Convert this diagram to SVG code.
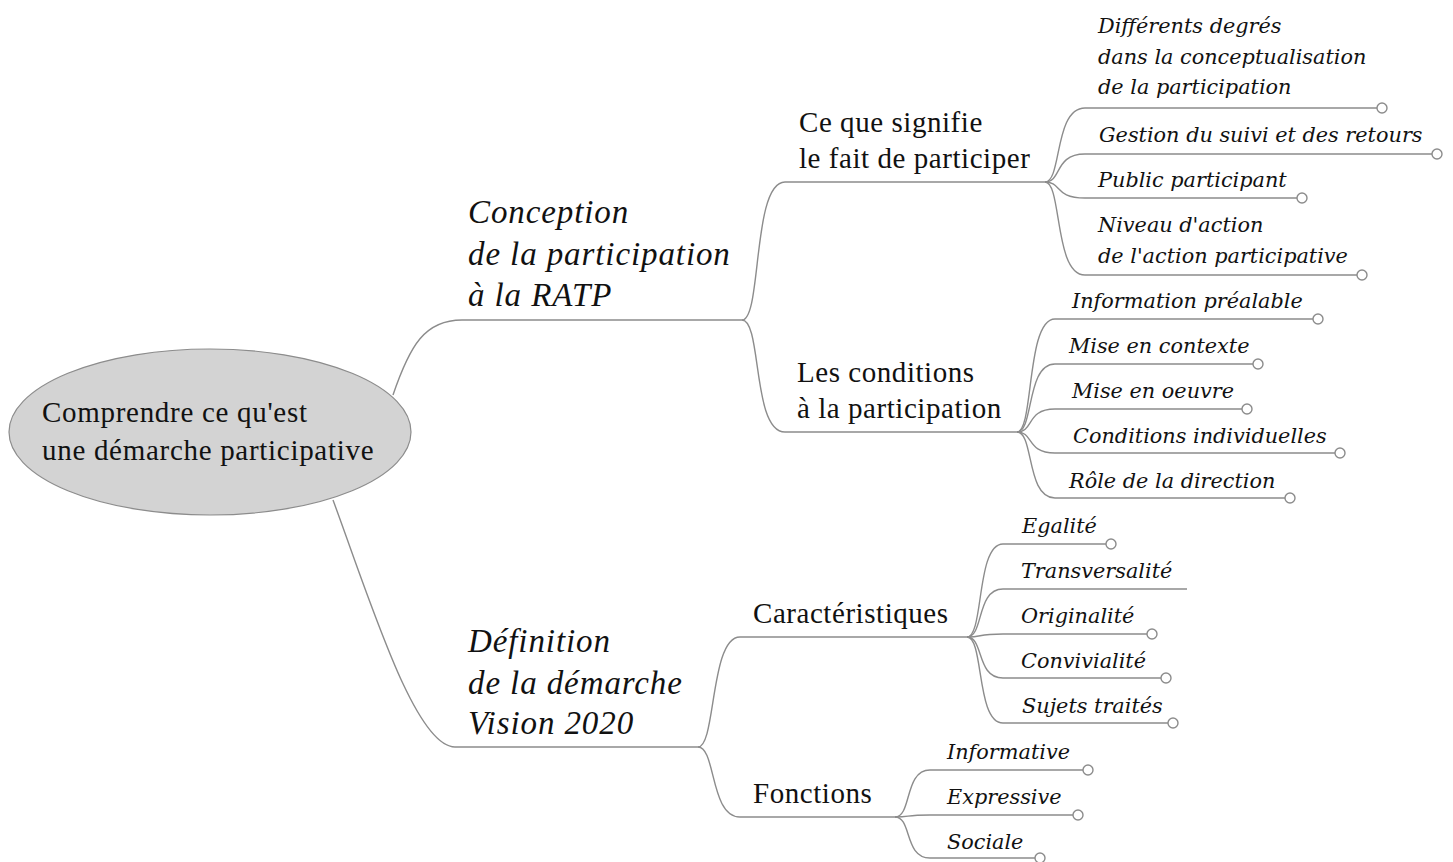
<svg xmlns="http://www.w3.org/2000/svg" width="1453" height="862" viewBox="0 0 1453 862">
<style>
.bg{fill:#ffffff}
.c{fill:none;stroke:#8c8c8c;stroke-width:1.4}
.dot{fill:#ffffff;stroke:#8c8c8c;stroke-width:1.4}
.root{fill:#d3d3d3;stroke:#8c8c8c;stroke-width:1.2}
.t0{font-family:"Liberation Serif","Times New Roman",serif;font-size:29px;fill:#111;letter-spacing:0.7px}
.t1{font-family:"Liberation Serif","Times New Roman",serif;font-style:italic;font-size:33px;fill:#111;letter-spacing:0.9px}
.t2{font-family:"Liberation Serif","Times New Roman",serif;font-size:29px;fill:#111;letter-spacing:0.55px}
.t3{font-family:"DejaVu Serif",serif;font-style:italic;font-size:20.8px;fill:#111}
</style>
<rect class="bg" x="0" y="0" width="1453" height="862"/>
<g id="connectors">
<path class="c" d="M393,395 C410,345 425,320 462,320 L742,320"/>
<path class="c" d="M333,500 C370,600 415,747 455,747 L698,747"/>
<path class="c" d="M742,320 C762,320 752,182 785,182 L1045,182"/>
<path class="c" d="M742,320 C762,320 752,432 785,432 L1017,432"/>
<path class="c" d="M698,747 C716,747 710,637 740,637 L967,637"/>
<path class="c" d="M698,747 C716,747 710,817 740,817 L895,817"/>
<path class="c" d="M1045,182 C1062,182 1054,108 1085,108 L1377,108"/>
<path class="c" d="M1045,182 C1062,182 1054,154 1085,154 L1432,154"/>
<path class="c" d="M1045,182 C1062,182 1054,198 1085,198 L1297,198"/>
<path class="c" d="M1045,182 C1062,182 1054,275 1085,275 L1357,275"/>
<path class="c" d="M1017,432 C1034,432 1026,319 1055,319 L1313,319"/>
<path class="c" d="M1017,432 C1034,432 1026,364 1055,364 L1253,364"/>
<path class="c" d="M1017,432 C1034,432 1026,409 1055,409 L1242,409"/>
<path class="c" d="M1017,432 C1034,432 1026,453 1055,453 L1335,453"/>
<path class="c" d="M1017,432 C1034,432 1026,498 1055,498 L1285,498"/>
<path class="c" d="M967,637 C984,637 976,544 1003,544 L1106,544"/>
<path class="c" d="M967,637 C984,637 976,589 1003,589 L1187,589"/>
<path class="c" d="M967,637 C984,637 976,634 1003,634 L1147,634"/>
<path class="c" d="M967,637 C984,637 976,678 1003,678 L1161,678"/>
<path class="c" d="M967,637 C984,637 976,723 1003,723 L1168,723"/>
<path class="c" d="M895,817 C912,817 904,770 930,770 L1083,770"/>
<path class="c" d="M895,817 C912,817 904,815 930,815 L1073,815"/>
<path class="c" d="M895,817 C912,817 904,858 930,858 L1035,858"/>
</g>
<g id="root">
<ellipse class="root" cx="210" cy="432" rx="201" ry="83"/>
<text class="t0" x="42" y="422">Comprendre ce qu'est</text>
<text class="t0" x="42" y="460">une démarche participative</text>
</g>
<g id="conception">
<text class="t1" x="468" y="223">Conception</text>
<text class="t1" x="468" y="265">de la participation</text>
<text class="t1" x="468" y="306">à la RATP</text>
</g>
<g id="definition">
<text class="t1" x="468" y="652">Définition</text>
<text class="t1" x="468" y="694">de la démarche</text>
<text class="t1" x="468" y="734">Vision 2020</text>
</g>
<g id="signifie">
<text class="t2" x="799" y="132">Ce que signifie</text>
<text class="t2" x="799" y="168">le fait de participer</text>
</g>
<g id="conditions">
<text class="t2" x="797" y="382">Les conditions</text>
<text class="t2" x="797" y="418">à la participation</text>
</g>
<g id="caracteristiques">
<text class="t2" x="753" y="623">Caractéristiques</text>
</g>
<g id="fonctions">
<text class="t2" x="753" y="803">Fonctions</text>
</g>
<g id="differents">
<text class="t3" x="1098" y="33">Différents degrés</text>
<text class="t3" x="1098" y="64">dans la conceptualisation</text>
<text class="t3" x="1098" y="94">de la participation</text>
<circle class="dot" cx="1382" cy="108" r="5"/>
</g>
<g id="gestion">
<text class="t3" x="1099" y="142">Gestion du suivi et des retours</text>
<circle class="dot" cx="1437" cy="154" r="5"/>
</g>
<g id="public">
<text class="t3" x="1098" y="187">Public participant</text>
<circle class="dot" cx="1302" cy="198" r="5"/>
</g>
<g id="niveau">
<text class="t3" x="1098" y="232">Niveau d'action</text>
<text class="t3" x="1098" y="263">de l'action participative</text>
<circle class="dot" cx="1362" cy="275" r="5"/>
</g>
<g id="information">
<text class="t3" x="1072" y="308">Information préalable</text>
<circle class="dot" cx="1318" cy="319" r="5"/>
</g>
<g id="contexte">
<text class="t3" x="1069" y="353">Mise en contexte</text>
<circle class="dot" cx="1258" cy="364" r="5"/>
</g>
<g id="oeuvre">
<text class="t3" x="1072" y="398">Mise en oeuvre</text>
<circle class="dot" cx="1247" cy="409" r="5"/>
</g>
<g id="individuelles">
<text class="t3" x="1073" y="443">Conditions individuelles</text>
<circle class="dot" cx="1340" cy="453" r="5"/>
</g>
<g id="direction">
<text class="t3" x="1069" y="488">Rôle de la direction</text>
<circle class="dot" cx="1290" cy="498" r="5"/>
</g>
<g id="egalite">
<text class="t3" x="1022" y="533">Egalité</text>
<circle class="dot" cx="1111" cy="544" r="5"/>
</g>
<g id="transversalite">
<text class="t3" x="1021" y="578">Transversalité</text>
</g>
<g id="originalite">
<text class="t3" x="1021" y="623">Originalité</text>
<circle class="dot" cx="1152" cy="634" r="5"/>
</g>
<g id="convivialite">
<text class="t3" x="1021" y="668">Convivialité</text>
<circle class="dot" cx="1166" cy="678" r="5"/>
</g>
<g id="sujets">
<text class="t3" x="1022" y="713">Sujets traités</text>
<circle class="dot" cx="1173" cy="723" r="5"/>
</g>
<g id="informative">
<text class="t3" x="947" y="759">Informative</text>
<circle class="dot" cx="1088" cy="770" r="5"/>
</g>
<g id="expressive">
<text class="t3" x="947" y="804">Expressive</text>
<circle class="dot" cx="1078" cy="815" r="5"/>
</g>
<g id="sociale">
<text class="t3" x="947" y="849">Sociale</text>
<circle class="dot" cx="1040" cy="858" r="5"/>
</g>
</svg>
